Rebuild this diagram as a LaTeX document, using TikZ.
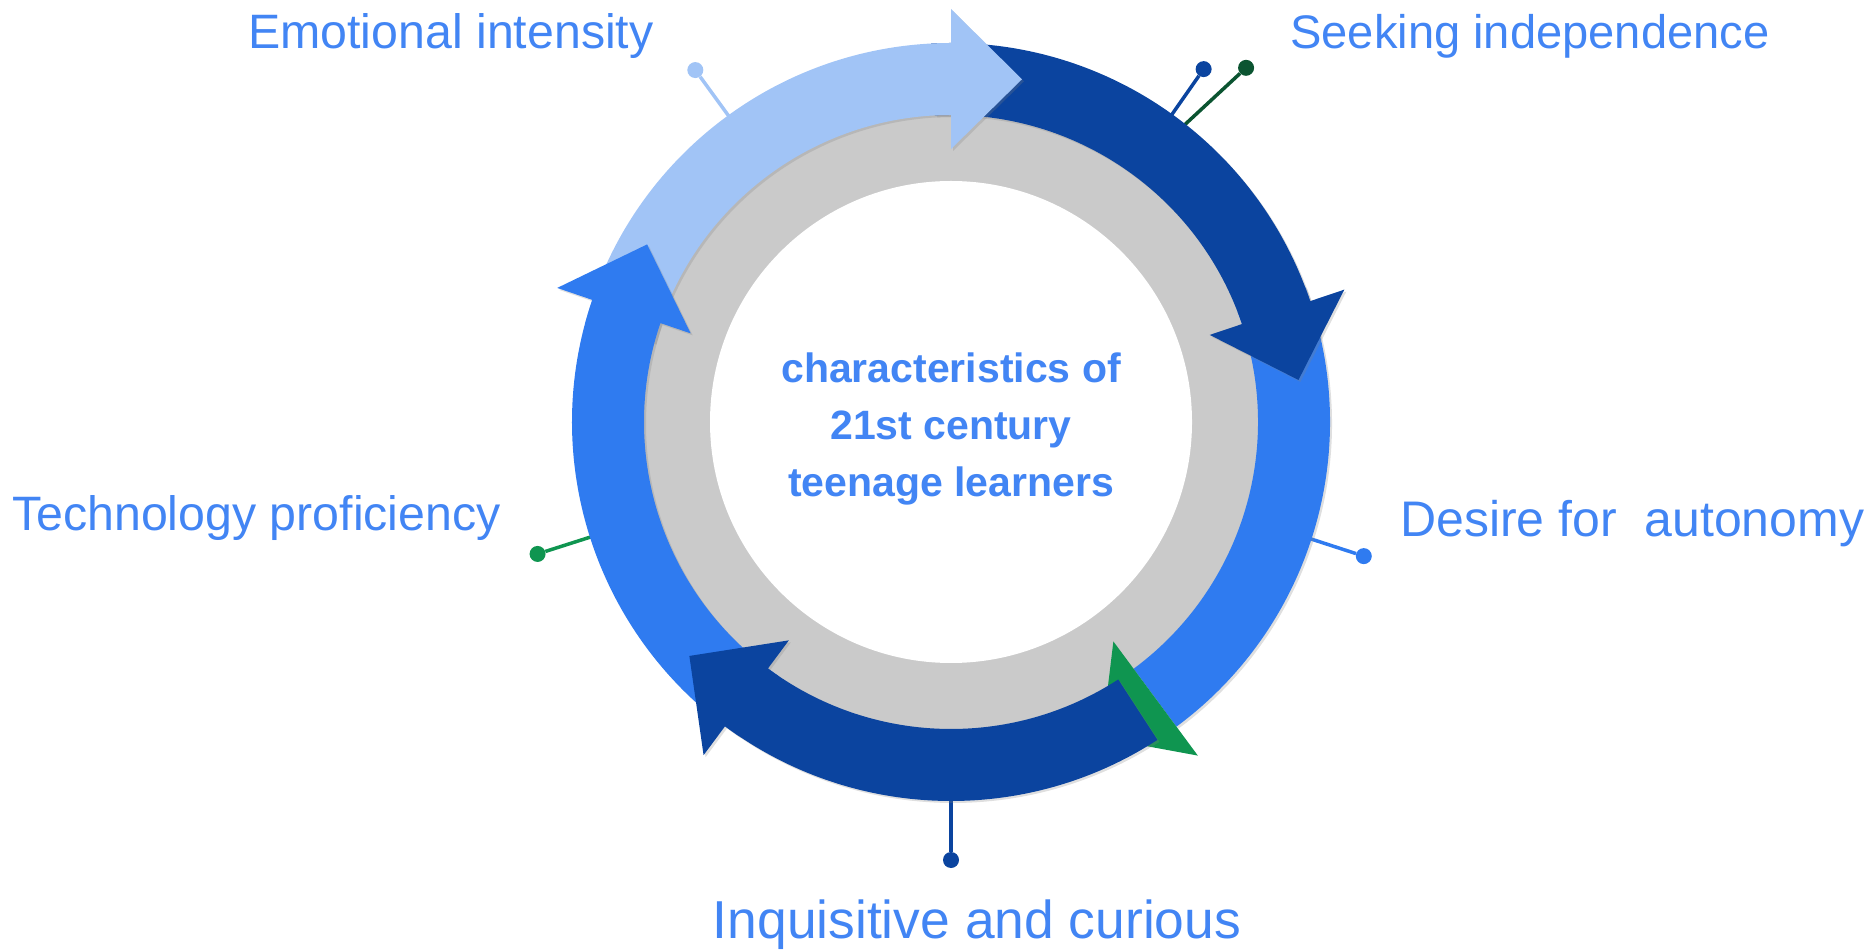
\documentclass[tikz,border=0pt]{standalone}
\usepackage{fontspec}
\setmainfont{Liberation Sans}
\usetikzlibrary{shadows}

\definecolor{lightblue}{HTML}{A1C4F6}
\definecolor{darkblue}{HTML}{0B449F}
\definecolor{midblue}{HTML}{2F7BF0}
\definecolor{textblue}{HTML}{4285F4}
\definecolor{ringgray}{HTML}{CACACA}
\definecolor{arrowgreen}{HTML}{0F9550}
\definecolor{darkgreen}{HTML}{0B5431}

\begin{document}
\begin{tikzpicture}[x=1pt,y=1pt,
    itemtext/.style={text=textblue,font=\fontsize{47.5}{57}\selectfont,inner sep=0pt},
    hubtext/.style={text=textblue,font=\fontsize{41}{49}\selectfont\bfseries,inner sep=0pt,anchor=base},
    leader/.style={line width=3.5pt},
    leaderdot/.style={circle,inner sep=0pt,minimum size=16pt},
    arrowband/.style={drop shadow={shadow xshift=2pt,shadow yshift=-2pt,opacity=.25}}]

    \useasboundingbox (0,0) rectangle (1873,951);
    \coordinate (c) at (951,529);

    % gray ring
    \fill[ringgray] (c) circle[radius=312pt];
    \fill[white] (c) circle[radius=241pt];

    \begin{scope}[shift={(c)}]
        % leader lines and their dots
        \coordinate (emo-end) at (126:375pt);
        \coordinate (seek-end) at (54.3:375pt);
        \coordinate (seek2-end) at (51.9:375pt);
        \coordinate (aut-end) at (-18:375pt);
        \coordinate (tech-end) at (197.7:375pt);
        \coordinate (inq-end) at (-90:375pt);

        \node[leaderdot,fill=lightblue] (emo-dot) at (126:435pt) {};
        \node[leaderdot,fill=darkblue] (seek-dot) at (54.4:434pt) {};
        \node[leaderdot,fill=darkgreen] (seek2-dot) at (50.2:461pt) {};
        \node[leaderdot,fill=midblue] (aut-dot) at (-18:434pt) {};
        \node[leaderdot,fill=arrowgreen] (tech-dot) at (197.7:434pt) {};
        \node[leaderdot,fill=darkblue] (inq-dot) at (-90:438pt) {};

        \draw[leader,lightblue] (emo-end) -- (emo-dot);
        \draw[leader,darkblue] (seek-end) -- (seek-dot);
        \draw[leader,darkgreen] (seek2-end) -- (seek2-dot);
        \draw[leader,midblue] (aut-end) -- (aut-dot);
        \draw[leader,arrowgreen] (tech-end) -- (tech-dot);
        \draw[leader,darkblue] (inq-end) -- (inq-dot);

        % right arc, green head
        \fill[midblue,arrowband] (21:379pt) arc[start angle=21,end angle=-53.5,radius=379pt]
            -- (-53.5:307pt) arc[start angle=-53.5,end angle=21,radius=307pt] -- cycle;
        \fill[arrowgreen] (-53.5:415pt) -- (-64.5:350pt) -- (-53.5:273pt) -- cycle;

        % top right arc
        \fill[darkblue,arrowband] (93:379pt) arc[start angle=93,end angle=18.6,radius=379pt]
            -- (18.6:415pt) -- (6.9:350pt) -- (18.6:273pt)
            -- (18.6:307pt) arc[start angle=18.6,end angle=93,radius=307pt] -- cycle;

        % top left arc
        \fill[lightblue,arrowband] (165:379pt) arc[start angle=165,end angle=90,radius=379pt]
            -- (90:413pt) -- (78.3:350pt) -- (90:273pt)
            -- (90:307pt) arc[start angle=90,end angle=165,radius=307pt] -- cycle;

        % left arc
        \fill[midblue,arrowband] (236:379pt) arc[start angle=236,end angle=161.2,radius=379pt]
            -- (161.2:416pt) -- (149.7:352pt) -- (161.2:275pt)
            -- (161.2:307pt) arc[start angle=161.2,end angle=236,radius=307pt] -- cycle;

        % bottom arc
        \fill[darkblue,arrowband] (-57:379pt) arc[start angle=-57,end angle=-126.6,radius=379pt]
            -- (-126.6:415pt) -- (-138.2:351pt) -- (-126.6:272pt)
            -- (-126.6:307pt) arc[start angle=-126.6,end angle=-57,radius=307pt] -- cycle;
    \end{scope}

    % centre text
    \node[hubtext] (hub1) at (951,568) {characteristics of};
    \node[hubtext] (hub2) at (951,511) {21st century};
    \node[hubtext] (hub3) at (951,454) {teenage learners};

    % outer labels
    \node[itemtext,anchor=base west,font=\fontsize{48.3}{57}\selectfont] (emo) at (248,902) {Emotional intensity};
    \node[itemtext,anchor=base west,font=\fontsize{47.1}{57}\selectfont] (seek) at (1290,902) {Seeking independence};
    \node[itemtext,anchor=base west,font=\fontsize{48.3}{57}\selectfont] (tech) at (12,420) {Technology proficiency};
    \node[itemtext,anchor=base west,font=\fontsize{50}{57}\selectfont] (aut) at (1400,414) {Desire for\ \ autonomy};
    \node[itemtext,anchor=base,font=\fontsize{53.4}{60}\selectfont] (inq) at (977,13) {Inquisitive and curious};
\end{tikzpicture}
\end{document}
